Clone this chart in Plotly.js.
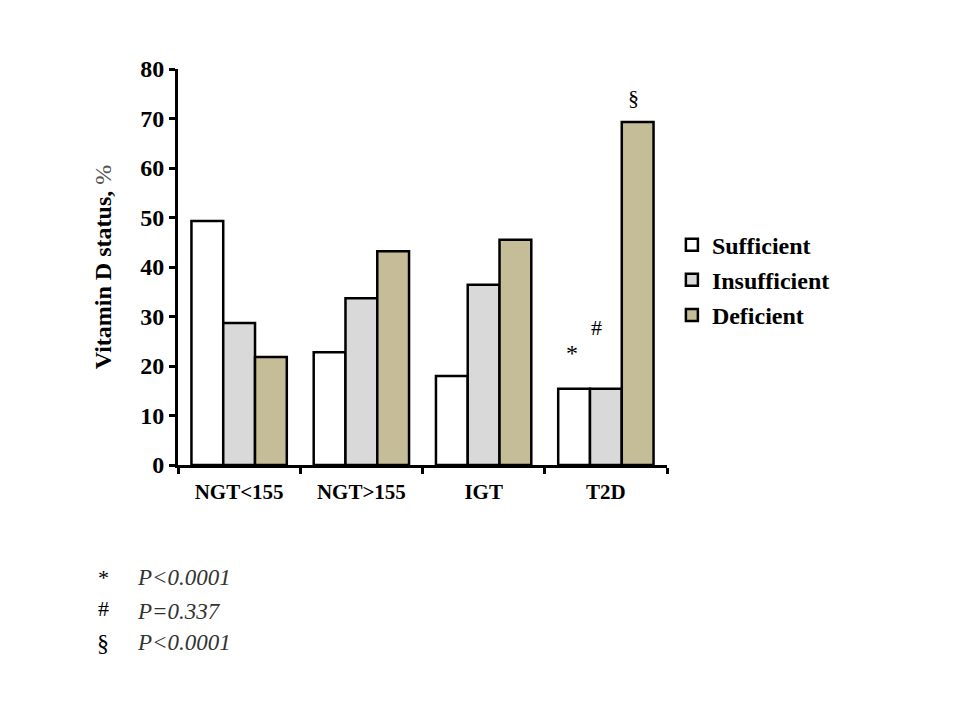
<!DOCTYPE html>
<html>
<head>
<meta charset="utf-8">
<script src="https://cdn.plot.ly/plotly-3.0.1.min.js"></script>
<style>body{margin:0;background:#fff;} #chart{width:960px;height:720px;}</style>
</head>
<body>
<div id="chart"></div>
<script>
const categories = ["NGT<155", "NGT>155", "IGT", "T2D"];
const sufficient = [49.3, 22.8, 18.0, 15.4];
const insufficient = [28.7, 33.7, 36.4, 15.4];
const deficient = [21.8, 43.2, 45.5, 69.3];
const seriesNames = ["Sufficient", "Insufficient", "Deficient"];
const seriesColors = ["#FFFFFF", "#D9D9D9", "#C4BD97"];
const yTicks = [0, 10, 20, 30, 40, 50, 60, 70, 80];

const font = "Liberation Serif, Times New Roman, serif";
const values = [sufficient, insufficient, deficient];
const traces = values.map((v, i) => ({
  type: "bar",
  x: categories,
  y: v,
  name: seriesNames[i],
  legendgroup: "g" + i,
  marker: {color: seriesColors[i], line: {color: "#000", width: 2.5}},
  hoverinfo: "none"
}));

function ann(x, y, text, size, extra) {
  return Object.assign({xref: "paper", yref: "paper", x: x, y: y, text: text, showarrow: false,
    xanchor: "center", yanchor: "middle", font: {family: font, size: size, color: "#000"}}, extra || {});
}
const pFont = {family: font, size: 23, color: "#333"};

const layout = {
  width: 960, height: 720,
  margin: {l: 178, r: 293, t: 69, b: 255},
  paper_bgcolor: "#fff", plot_bgcolor: "#fff",
  bargap: 0.22, bargroupgap: 0,
  barmode: "group",
  font: {family: font, color: "#000"},
  showlegend: true,
  legend: {
    x: 1.01, y: 0.467, xanchor: "left", yanchor: "middle",
    font: {family: font, size: 24, color: "#000", weight: "bold"},
    tracegroupgap: 1, traceorder: "grouped",
    bgcolor: "rgba(0,0,0,0)"
  },
  xaxis: {
    type: "category",
    showline: true, linecolor: "#000", linewidth: 3,
    ticks: "outside", tickson: "boundaries", ticklen: 6, tickwidth: 3, tickcolor: "#000",
    ticklabelstandoff: 6,
    tickfont: {family: font, size: 21, color: "#000", weight: "bold"},
    showgrid: false, zeroline: false, fixedrange: true
  },
  yaxis: {
    range: [0, 80],
    tickvals: yTicks,
    showline: true, linecolor: "#000", linewidth: 3,
    ticks: "outside", ticklen: 6, tickwidth: 3, tickcolor: "#000",
    tickfont: {family: font, size: 24, color: "#000", weight: "bold"},
    showgrid: false, zeroline: false,
    title: {text: "<b>Vitamin D status,</b> <span style='color:#555'>%</span>", font: {family: font, size: 24, color: "#000"}, standoff: 22}
  },
  annotations: [
    ann(0.9325, 0.929, "§", 22),
    ann(0.855, 0.348, "#", 22),
    ann(0.806, 0.283, "*", 24),
    ann(-0.153, -0.285, "*", 22),
    ann(-0.088, -0.283, "<i>P<0.0001</i>", 23, {xanchor: "left", font: pFont}),
    ann(-0.153, -0.362, "#", 22),
    ann(-0.088, -0.371, "<i>P=0.337</i>", 23, {xanchor: "left", font: pFont}),
    ann(-0.153, -0.449, "§", 24),
    ann(-0.088, -0.449, "<i>P<0.0001</i>", 23, {xanchor: "left", font: pFont})
  ]
};

Plotly.newPlot("chart", traces, layout, {displayModeBar: false, staticPlot: true});
</script>
</body>
</html>
